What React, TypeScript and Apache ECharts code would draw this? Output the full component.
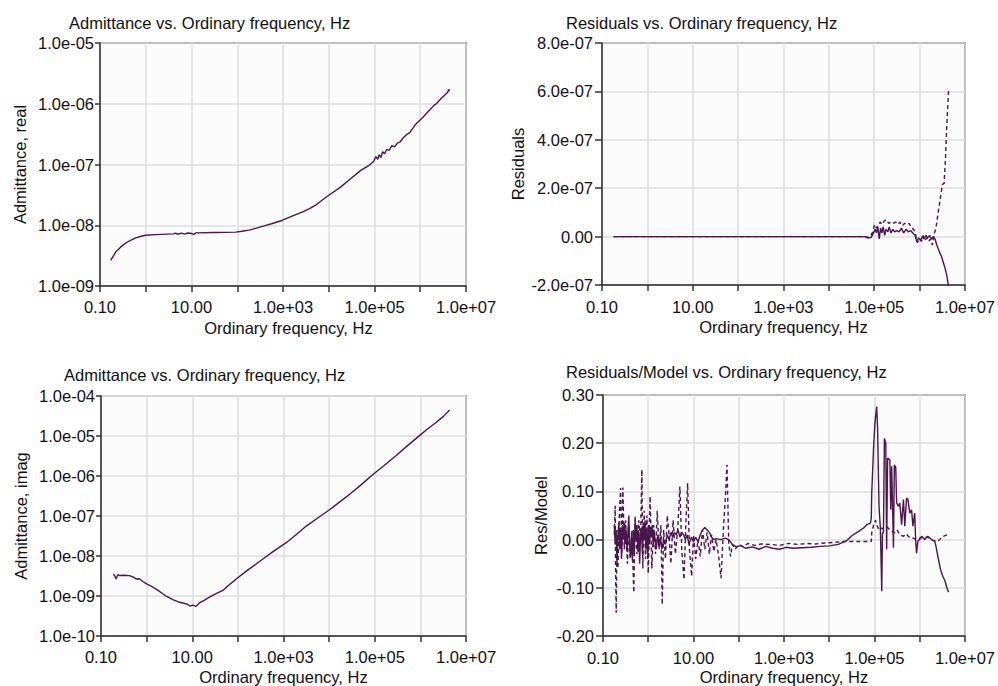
import { useEffect, useRef } from 'react';
import * as echarts from 'echarts';

// Tick labels (log axes are indexed by decade exponent, value axes by tick index)
const freqTickLabels = ['0.10', '', '10.00', '', '1.0e+03', '', '1.0e+05', '', '1.0e+07']; // 1e-1 .. 1e7
const realTickLabels = ['1.0e-09', '1.0e-08', '1.0e-07', '1.0e-06', '1.0e-05']; // 1e-9 .. 1e-5
const imagTickLabels = ['1.0e-10', '1.0e-09', '1.0e-08', '1.0e-07', '1.0e-06', '1.0e-05', '1.0e-04'];
const residualTickLabels = ['-2.0e-07', '0.00', '2.0e-07', '4.0e-07', '6.0e-07', '8.0e-07'];
const ratioTickLabels = ['-0.20', '-0.10', '0.00', '0.10', '0.20', '0.30'];

// Admittance, real part: [frequency Hz, admittance]
const admittanceReal: [number, number][] = [
  [0.171, 2.65e-9], [0.2, 3.2e-9], [0.221, 3.65e-9], [0.251, 4.0e-9], [0.284, 4.4e-9],
  [0.339, 4.9e-9], [0.398, 5.3e-9], [0.501, 5.8e-9], [0.604, 6.2e-9], [0.794, 6.6e-9],
  [1.0, 6.85e-9], [1.66, 7.0e-9], [2.82, 7.15e-9], [3.98, 7.2e-9], [4.53, 7.4e-9],
  [5.0, 7.1e-9], [6.0, 7.4e-9], [7.1, 7.15e-9], [8.3, 7.45e-9], [10, 7.3e-9],
  [11.2, 7.05e-9], [12.4, 7.5e-9], [31.6, 7.6e-9], [93, 7.7e-9], [126, 7.95e-9],
  [182, 8.3e-9], [251, 8.9e-9], [355, 9.6e-9], [562, 1.06e-8], [977, 1.21e-8],
  [1585, 1.41e-8], [2690, 1.66e-8], [3800, 1.88e-8], [5250, 2.16e-8], [7240, 2.6e-8],
  [10200, 3.15e-8], [17800, 4.2e-8],
  [28200, 5.6e-8], [50100, 8.0e-8], [77600, 9.8e-8], [95500, 1.12e-7], [107000, 1.35e-7],
  [117500, 1.22e-7], [126000, 1.45e-7], [138000, 1.3e-7], [151000, 1.62e-7], [166000, 1.5e-7],
  [186000, 1.78e-7], [209000, 1.7e-7], [240000, 2.05e-7], [275000, 1.95e-7], [316000, 2.25e-7],
  [363000, 2.35e-7], [417000, 2.7e-7], [501000, 3.1e-7], [589000, 3.35e-7], [813000, 4.7e-7],
  [1.12e6, 5.9e-7], [1.58e6, 7.8e-7], [2.0e6, 9.4e-7], [2.24e6, 1.0e-6], [2.63e6, 1.14e-6],
  [3.31e6, 1.35e-6], [3.98e6, 1.55e-6], [4.17e6, 1.72e-6], [4.37e6, 1.62e-6],
];

// Admittance, imaginary part
const admittanceImag: [number, number][] = [
  [0.187, 3.56e-9], [0.2, 3.2e-9], [0.214, 2.67e-9], [0.234, 3.4e-9], [0.253, 3.25e-9],
  [0.316, 3.3e-9], [0.42, 3.24e-9], [0.5, 3.0e-9], [0.589, 2.67e-9], [0.69, 2.7e-9],
  [0.826, 2.3e-9], [1.0, 2.0e-9], [1.37, 1.67e-9], [1.78, 1.38e-9], [2.26, 1.14e-9],
  [2.82, 9.6e-10], [3.76, 8.1e-10], [5.0, 7.1e-10], [6.22, 6.7e-10], [7.94, 6.2e-10],
  [8.9, 5.6e-10], [10.3, 5.9e-10], [12.0, 5.5e-10], [14.4, 6.7e-10], [18.2, 7.8e-10],
  [23.8, 9.4e-10], [31.6, 1.12e-9], [46.9, 1.38e-9], [63, 1.86e-9], [91.8, 2.67e-9],
  [158, 4.3e-9], [251, 6.3e-9], [398, 9.3e-9], [589, 1.29e-8], [1150, 2.15e-8],
  [2000, 3.6e-8], [3160, 5.6e-8], [5620, 8.9e-8], [10200, 1.43e-7], [15800, 2.1e-7],
  [28200, 3.5e-7], [50100, 6.0e-7], [91200, 1.09e-6], [158000, 1.8e-6], [295000, 3.27e-6],
  [501000, 5.5e-6], [955000, 1.02e-5], [1.41e6, 1.47e-5], [2.24e6, 2.2e-5], [3.16e6, 3.05e-5],
  [4.37e6, 4.46e-5],
];

// Residuals, real part (solid)
const residualReal: [number, number][] = [
  [0.18, 0], [1, 0], [10, 0], [100, 0], [1000, 0], [10000, 0], [63100, 0],
  [70800, -5e-9], [85100, -4e-9], [93300, 1e-8], [105000, 3e-8], [112000, 1.5e-8],
  [120000, 4e-8], [129000, -1e-8], [138000, 3.5e-8], [148000, 1.5e-8], [158000, 4e-8],
  [170000, 5e-9], [182000, 3e-8], [200000, 2e-8], [214000, 4e-8], [234000, 1.5e-8],
  [257000, 3e-8], [282000, 2e-8], [316000, 2.5e-8], [355000, 2e-8], [398000, 3.5e-8],
  [447000, 1.5e-8], [501000, 3e-8], [562000, 2e-8], [631000, 2.5e-8], [708000, 1.5e-8],
  [794000, 5e-9], [871000, -2e-8], [955000, -5e-9], [1.05e6, -1.5e-8], [1.15e6, 0],
  [1.26e6, -1e-8], [1.38e6, 5e-9], [1.51e6, -5e-9], [1.66e6, 5e-9], [1.82e6, -1e-8],
  [2.0e6, 0], [2.19e6, -1e-8], [2.4e6, -3.5e-8], [2.69e6, -6e-8], [3.02e6, -8e-8],
  [3.31e6, -1.05e-7], [3.63e6, -1.3e-7], [3.98e6, -1.6e-7], [4.37e6, -2.1e-7],
];

// Residuals, imaginary part (dashed)
const residualImag: [number, number][] = [
  [0.18, 0], [1, 0], [10, 0], [100, 0], [1000, 0], [10000, 0], [63100, 0],
  [79400, -5e-9], [93300, 2e-8], [102000, 5e-8], [112000, 3.5e-8], [123000, 4.5e-8],
  [135000, 6e-8], [151000, 5e-8], [166000, 6.5e-8], [186000, 7e-8], [209000, 5.5e-8],
  [234000, 6e-8], [263000, 5.5e-8], [295000, 6e-8], [331000, 5e-8], [372000, 6e-8],
  [417000, 4.5e-8], [468000, 5.5e-8], [525000, 5e-8], [589000, 5.5e-8], [661000, 3.5e-8],
  [741000, 3e-8], [813000, 1e-8], [891000, -2.5e-8], [1.0e6, -1e-8], [1.1e6, -2e-8],
  [1.2e6, 5e-9], [1.32e6, -1.5e-8], [1.45e6, -5e-9], [1.58e6, -2e-8], [1.74e6, -1e-8],
  [1.91e6, -3.5e-8], [2.09e6, 1e-8], [2.29e6, 3.5e-8], [2.57e6, 1.0e-7], [2.88e6, 1.6e-7],
  [3.16e6, 2.15e-7], [3.47e6, 2.2e-7], [3.72e6, 3.2e-7], [3.98e6, 4.6e-7], [4.37e6, 6.07e-7],
];

// Residuals / model, real part (solid)
const ratioReal: [number, number][] = [
  [0.178, 0.03], [0.186, -0.01], [0.195, 0.02], [0.204, -0.05], [0.214, 0.01],
  [0.224, 0.035], [0.234, -0.02], [0.245, 0.025], [0.257, -0.04], [0.269, 0.03],
  [0.282, 0.0], [0.295, 0.035], [0.309, -0.01], [0.324, 0.02], [0.339, -0.025],
  [0.355, 0.015], [0.372, 0.05], [0.389, -0.02], [0.407, -0.035], [0.427, 0.01],
  [0.447, -0.045], [0.468, 0.02], [0.49, -0.03], [0.513, 0.04], [0.537, 0.0],
  [0.562, 0.03], [0.589, -0.025], [0.617, 0.02], [0.646, -0.05], [0.676, 0.01],
  [0.708, 0.025], [0.741, -0.03], [0.776, 0.035], [0.813, 0.0], [0.851, 0.04],
  [0.891, -0.02], [0.933, 0.02], [0.977, -0.04], [1.02, 0.03], [1.07, -0.01],
  [1.12, 0.025], [1.17, 0.005], [1.23, 0.03], [1.29, -0.015], [1.35, 0.02],
  [1.41, 0.0], [1.51, -0.02], [1.62, 0.01], [1.74, -0.015], [1.86, 0.005],
  [2.0, -0.02], [2.19, 0.0], [2.4, -0.01], [2.63, 0.01], [2.88, 0.0],
  [3.16, 0.015], [3.47, 0.005], [3.8, 0.015], [4.17, 0.01], [4.57, 0.02],
  [5.01, 0.005], [5.5, 0.015], [6.03, 0.01], [6.61, 0.0], [7.24, 0.01],
  [7.94, -0.01], [8.91, 0.005], [10, -0.005], [11.2, 0.005], [12.6, -0.005],
  [14.1, 0.01], [15.8, 0.02], [17.8, 0.025], [20, 0.02], [22.4, 0.015],
  [25.1, 0.005], [28.2, 0.0], [31.6, 0.002], [39.8, 0.0], [50.1, 0.003],
  [60.3, 0.0], [72.4, -0.01], [89.1, -0.015], [112, -0.012], [141, -0.018],
  [200, -0.015], [282, -0.02], [398, -0.014], [562, -0.018], [794, -0.02],
  [1120, -0.016], [1580, -0.018], [2510, -0.017], [3980, -0.016], [6310, -0.014],
  [10000, -0.013], [15800, -0.01], [24500, -0.002], [31600, 0.008], [44700, 0.017],
  [57500, 0.024], [67600, 0.031], [81300, 0.034], [85100, 0.045], [87100, 0.097],
  [95500, 0.19], [102000, 0.24], [112000, 0.276], [117000, 0.234], [126000, 0.069],
  [135000, 0.024], [145000, -0.107], [150000, 0.014], [158000, 0.014], [166000, 0.21],
  [178000, 0.2], [186000, -0.02], [195000, 0.169], [219000, 0.165], [229000, 0.062],
  [240000, 0.152], [263000, -0.017], [275000, 0.155], [295000, 0.15], [309000, 0.076],
  [339000, 0.069], [363000, 0.076], [398000, 0.031], [437000, 0.083], [468000, 0.028],
  [513000, 0.086], [550000, 0.083], [603000, 0.055], [661000, 0.062], [708000, 0.028],
  [776000, 0.055], [813000, 0.0], [851000, -0.028], [912000, -0.003], [1.0e6, 0.0],
  [1.1e6, 0.007], [1.29e6, 0.0], [1.51e6, 0.007], [1.82e6, 0.0], [2.14e6, -0.003],
  [2.29e6, -0.014], [2.51e6, -0.034], [2.88e6, -0.062], [3.24e6, -0.076], [3.63e6, -0.086],
  [4.07e6, -0.103], [4.37e6, -0.109],
];

// Residuals / model, imaginary part (dashed)
const ratioImag: [number, number][] = [
  [0.178, 0.01], [0.186, 0.07], [0.19, -0.07], [0.196, -0.152], [0.204, 0.02],
  [0.214, -0.06], [0.229, 0.05], [0.245, 0.107], [0.26, -0.03], [0.275, 0.108],
  [0.295, -0.02], [0.316, 0.04], [0.347, -0.05], [0.372, 0.03], [0.398, -0.04],
  [0.437, 0.02], [0.479, -0.11], [0.513, 0.05], [0.562, -0.03], [0.617, 0.04],
  [0.676, 0.0], [0.724, 0.145], [0.759, -0.06], [0.813, 0.06], [0.871, -0.04],
  [0.933, 0.05], [1.0, -0.07], [1.1, 0.09], [1.2, -0.06], [1.32, 0.03],
  [1.45, -0.03], [1.58, 0.06], [1.74, -0.02], [1.91, 0.03], [2.04, -0.135],
  [2.19, 0.02], [2.4, -0.04], [2.63, 0.05], [2.88, 0.01], [3.16, -0.05],
  [3.55, 0.04], [3.98, -0.03], [4.47, 0.02], [5.01, 0.11], [5.5, -0.02],
  [6.17, -0.083], [6.76, 0.03], [7.41, 0.117], [8.13, -0.02], [9.12, -0.076],
  [10, 0.01], [11.2, -0.04], [12.6, 0.0], [14.1, -0.035], [15.8, 0.02],
  [17.8, -0.02], [20, 0.015], [22.4, -0.03], [25.1, 0.01], [28.2, -0.025],
  [31.6, 0.0], [35.5, -0.03], [40.7, -0.08], [45.7, 0.02], [50.1, 0.08],
  [55, 0.155], [60.3, -0.01], [66.1, -0.035], [72.4, -0.01], [83.2, -0.02],
  [100, -0.01], [126, -0.015], [158, -0.008], [224, -0.012], [316, -0.009],
  [501, -0.01], [794, -0.012], [1260, -0.008], [2000, -0.01], [3160, -0.008],
  [5010, -0.009], [7940, -0.007], [12600, -0.006], [20000, -0.004], [31600, -0.004],
  [50100, -0.004], [85100, -0.004], [87100, 0.014], [95500, 0.03], [105000, 0.04],
  [115000, 0.028], [126000, 0.02], [138000, 0.024], [158000, 0.022], [191000, 0.026],
  [229000, 0.018], [275000, 0.014], [316000, 0.02], [363000, 0.01], [437000, 0.007],
  [501000, 0.012], [603000, 0.004], [724000, 0.003], [832000, 0.0], [1.0e6, 0.003],
  [1.26e6, 0.006], [1.58e6, 0.004], [2.0e6, -0.002], [2.51e6, -0.004], [3.16e6, 0.006],
  [3.98e6, 0.01], [4.37e6, 0.012],
];

const LINE_COLOR = '#4b164d';
const TEXT_COLOR = '#111111';
const AXIS_COLOR = '#333333';
const FONT = "'Liberation Sans', Arial, Helvetica, sans-serif";
const FONT_SIZE = 16.5;

const decadeLabel = (labels: string[], minExp: number) => (v: number) =>
  labels[Math.round(Math.log10(v)) - minExp] ?? '';
const indexLabel = (labels: string[]) => (_v: number, i: number) => labels[i] ?? '';

const textStyle = { fontSize: FONT_SIZE, color: TEXT_COLOR, fontFamily: FONT };

function freqAxis(gridIndex: number, nameGap: number, labelMargin: number, namePad: number[]) {
  return {
    type: 'log',
    logBase: 10,
    gridIndex,
    min: 0.1,
    max: 1e7,
    splitNumber: 8,
    name: 'Ordinary frequency, Hz',
    nameLocation: 'middle',
    nameGap,
    nameTextStyle: { ...textStyle, padding: namePad },
    axisLine: { show: true, onZero: false, lineStyle: { color: AXIS_COLOR, width: 1.5 } },
    axisTick: { show: true, length: 6, lineStyle: { color: AXIS_COLOR, width: 1.5 } },
    minorTick: { show: false },
    axisLabel: { ...textStyle, margin: labelMargin, formatter: decadeLabel(freqTickLabels, -1) },
    splitLine: { show: true, lineStyle: { color: '#dedede', width: 1.5 } },
  };
}

function leftAxis(gridIndex: number, name: string, nameGap: number, labelMargin: number, tickLen: number, extra: any) {
  return {
    gridIndex,
    name,
    nameLocation: 'middle',
    nameGap,
    nameTextStyle: textStyle,
    axisLine: { show: true, onZero: false, lineStyle: { color: AXIS_COLOR, width: 1.5 } },
    axisTick: { show: true, length: tickLen, lineStyle: { color: AXIS_COLOR, width: 1.5 } },
    minorTick: { show: false },
    splitLine: { show: true, lineStyle: { color: '#dedede', width: 1.5 } },
    ...extra,
    axisLabel: { ...textStyle, margin: labelMargin, ...(extra.axisLabel || {}) },
  };
}

function lineSeries(axisIndex: number, data: [number, number][], dashed: boolean) {
  return {
    type: 'line',
    xAxisIndex: axisIndex,
    yAxisIndex: axisIndex,
    data,
    symbol: 'none',
    showSymbol: false,
    clip: true,
    lineStyle: { color: LINE_COLOR, width: 1.4, type: dashed ? [4, 3] : 'solid' },
    itemStyle: { color: LINE_COLOR },
  };
}

const gridBase = {
  show: true,
  backgroundColor: '#fbfbfb',
  borderColor: AXIS_COLOR,
  borderWidth: 1.5,
  containLabel: false,
};

export default function App() {
  const ref = useRef<HTMLDivElement>(null);

  useEffect(() => {
    document.body.style.margin = '0';
    if (!ref.current) return;
    const chart = echarts.init(ref.current, undefined, { renderer: 'svg' });
    const titleStyle = { ...textStyle, fontWeight: 'normal' as const };
    chart.setOption({
      animation: false,
      backgroundColor: '#ffffff',
      title: [
        { text: 'Admittance vs. Ordinary frequency, Hz', left: 69, top: 14, padding: 0, textStyle: titleStyle },
        { text: 'Residuals vs. Ordinary frequency, Hz', left: 566, top: 14, padding: 0, textStyle: titleStyle },
        { text: 'Admittance vs. Ordinary frequency, Hz', left: 64, top: 366, padding: 0, textStyle: titleStyle },
        { text: 'Residuals/Model vs. Ordinary frequency, Hz', left: 566, top: 363, padding: 0, textStyle: titleStyle },
      ],
      grid: [
        { ...gridBase, left: 100, top: 43, width: 366, height: 243 },
        { ...gridBase, left: 602, top: 43, width: 366, height: 242 },
        { ...gridBase, left: 101, top: 396, width: 365, height: 242 },
        { ...gridBase, left: 603, top: 395, width: 365, height: 241 },
      ],
      xAxis: [
        freqAxis(0, 33, 12, [0, 0, 0, 11]),
        freqAxis(1, 33, 13, [0, 0, 0, 0]),
        freqAxis(2, 32, 12, [0, 0, 0, 0]),
        freqAxis(3, 32, 13, [0, 0, 0, 0]),
      ],
      yAxis: [
        leftAxis(0, 'Admittance, real', 72, 6, 5, {
          type: 'log', logBase: 10, min: 1e-9, max: 1e-5, splitNumber: 4,
          axisLabel: { formatter: decadeLabel(realTickLabels, -9) },
        }),
        leftAxis(1, 'Residuals', 76, 9, 7, {
          type: 'value', min: -2e-7, max: 8e-7, interval: 2e-7,
          axisLabel: { formatter: indexLabel(residualTickLabels) },
        }),
        leftAxis(2, 'Admittance, imag', 72, 6, 5, {
          type: 'log', logBase: 10, min: 1e-10, max: 1e-4, splitNumber: 6,
          axisLabel: { formatter: decadeLabel(imagTickLabels, -10) },
        }),
        leftAxis(3, 'Res/Model', 54, 9, 7, {
          type: 'value', min: -0.2, max: 0.3, interval: 0.1,
          axisLabel: { formatter: indexLabel(ratioTickLabels) },
        }),
      ],
      series: [
        lineSeries(0, admittanceReal, false),
        lineSeries(1, residualImag, true),
        lineSeries(1, residualReal, false),
        lineSeries(2, admittanceImag, false),
        lineSeries(3, ratioImag, true),
        lineSeries(3, ratioReal, false),
      ],
    });
    return () => chart.dispose();
  }, []);

  return <div ref={ref} style={{ width: 998, height: 686 }} />;
}
